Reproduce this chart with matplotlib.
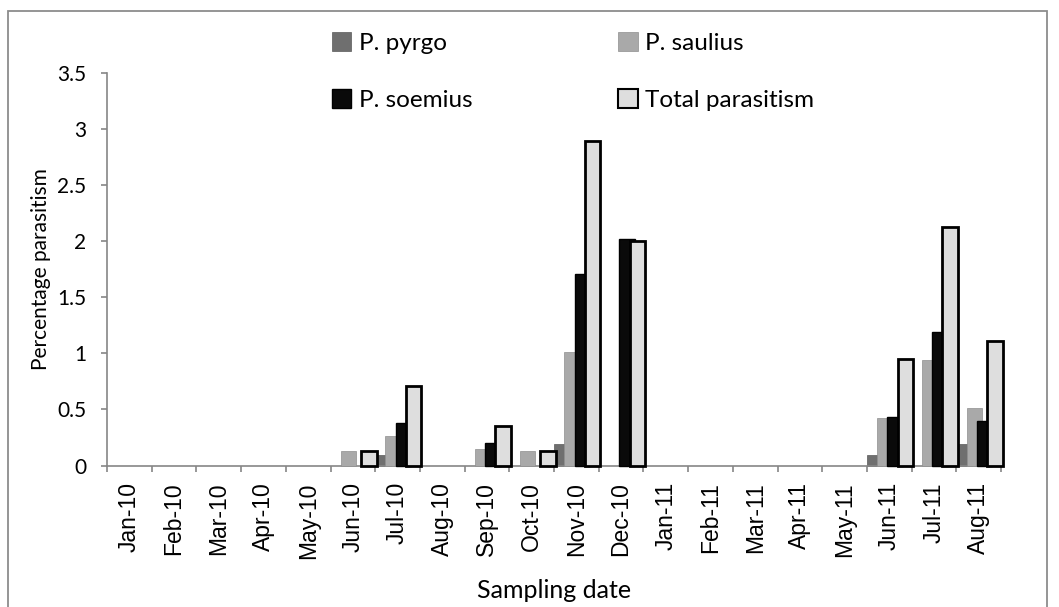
import numpy as np
import matplotlib
matplotlib.use('Agg')
import matplotlib.pyplot as plt
from matplotlib.patches import Patch, Rectangle

months = ['Jan-10', 'Feb-10', 'Mar-10', 'Apr-10', 'May-10', 'Jun-10', 'Jul-10',
          'Aug-10', 'Sep-10', 'Oct-10', 'Nov-10', 'Dec-10', 'Jan-11', 'Feb-11',
          'Mar-11', 'Apr-11', 'May-11', 'Jun-11', 'Jul-11', 'Aug-11']
pyrgo = [0, 0, 0, 0, 0, 0, 0.09, 0, 0, 0, 0.19, 0, 0, 0, 0, 0, 0, 0.09, 0, 0.19]
saulius = [0, 0, 0, 0, 0, 0.13, 0.26, 0, 0.15, 0.13, 1.01, 0, 0, 0, 0, 0, 0, 0.42, 0.94, 0.51]
soemius = [0, 0, 0, 0, 0, 0, 0.38, 0, 0.20, 0, 1.71, 2.02, 0, 0, 0, 0, 0, 0.43, 1.19, 0.40]
total = [0, 0, 0, 0, 0, 0.13, 0.71, 0, 0.35, 0.13, 2.89, 2.00, 0, 0, 0, 0, 0, 0.95, 2.13, 1.11]

series = [
    ('P. pyrgo', pyrgo, '#6f6f6f', '#5a5a5a', 0.5),
    ('P. saulius', saulius, '#a9a9a9', '#8f8f8f', 0.5),
    ('P. soemius', soemius, '#0a0a0a', '#000000', 1.0),
    ('Total parasitism', total, '#dedede', '#000000', 2.0),
]

calibri = ['Lato', 'DejaVu Sans']
grey = '#868686'

fig = plt.figure(figsize=(10.59, 6.07), dpi=100)
ax = fig.add_axes([107 / 1059, 1 - 465.5 / 607, (1001 - 107) / 1059, (465.5 - 73) / 607])

step = 0.23
width = 0.345
x = np.arange(len(months))
handles = []
for k, (name, vals, fc, ec, lw) in enumerate(series):
    vals = np.array(vals)
    keep = vals > 0
    ax.bar(x[keep] + k * step, vals[keep], width=width, align='edge',
           color=fc, edgecolor=ec, linewidth=lw, zorder=2 + k, clip_on=False)
    handles.append(Patch(facecolor=fc, edgecolor=ec, linewidth=min(lw, 1.5), label=name))

ax.set_xlim(0, len(months))
ax.set_ylim(0, 3.5)
ax.set_yticks(np.arange(0, 3.51, 0.5))
ax.set_yticklabels(['0', '0.5', '1', '1.5', '2', '2.5', '3', '3.5'], family=calibri, fontsize=15)
ax.set_xticks(np.arange(len(months) + 1))
ax.set_xticklabels([])
ax.set_xticks(x + 0.5, minor=True)
ax.set_xticklabels(months, minor=True, rotation=90, family='Liberation Sans', fontsize=16.5)
ax.tick_params(axis='x', which='minor', length=0, pad=12)
ax.tick_params(axis='both', which='major', length=4, color=grey, width=1.2)
ax.tick_params(axis='y', pad=11)

for s in ['top', 'right']:
    ax.spines[s].set_visible(False)
for s in ['left', 'bottom']:
    ax.spines[s].set_color(grey)
    ax.spines[s].set_linewidth(1.2)

ax.set_ylabel('Percentage parasitism', family=calibri, fontsize=15, labelpad=4)
fig.text(554 / 1059, 1 - 590 / 607, 'Sampling date', family=calibri, fontsize=18,
         ha='center', va='center')

order = [handles[0], handles[2], handles[1], handles[3]]
fig.legend(handles=order, labels=[h.get_label() for h in order], ncol=2,
           loc='upper left', bbox_to_anchor=(332 / 1059, 1 - 32 / 607),
           frameon=False, prop={'family': calibri, 'size': 17.5},
           handlelength=0.8, handleheight=0.8, handletextpad=0.3,
           labelspacing=1.45, columnspacing=6.0, borderpad=0, borderaxespad=0)

fig.patches.append(Rectangle((8 / 1059, -0.05), (1047 - 8) / 1059, 1.05 - 11 / 607,
                             transform=fig.transFigure, fill=False,
                             edgecolor='#8c8c8c', linewidth=1.3))

fig.savefig('out.png', dpi=100)
